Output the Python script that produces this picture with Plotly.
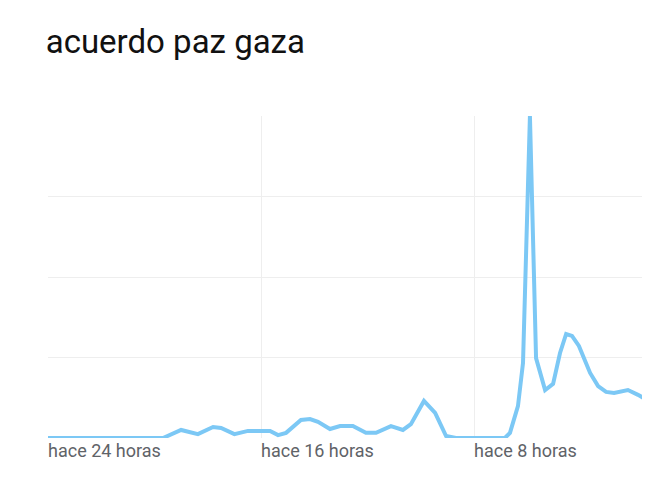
import plotly.graph_objects as go

hours_ago = [24, 19.68, 19.0, 18.37, 17.8, 17.5, 17.0, 16.49, 15.66, 15.36, 15.06, 14.5, 14.16, 13.86,
             13.41, 13.03, 12.55, 12.06, 11.68, 11.12, 10.67, 10.37, 9.88, 9.46, 9.05, 8.68, 6.84,
             6.65, 6.35, 6.16, 5.9, 5.67, 5.33, 5.03, 4.77, 4.54, 4.32, 4.06, 3.64, 3.34, 3.04,
             2.74, 2.22, 1.84, 1.09, 0]
interest = [0, 0, 2.5, 1.2, 3.4, 3.1, 1.2, 2.2, 2.2, 0.9, 1.6, 5.6, 5.9, 5.0,
            2.8, 3.7, 3.7, 1.6, 1.6, 3.7, 2.5, 4.3, 11.5, 7.8, 0.6, 0, 0,
            1.6, 9.9, 23.3, 100, 24.8, 14.9, 16.8, 26.4, 32.3, 31.7, 28.6, 20.2, 16.1, 14.3,
            14.0, 14.9, 13.4, 9.9, 7.8]
tick_vals = [24, 16, 8]
tick_text = ["hace 24 horas", "hace 16 horas", "hace 8 horas"]
last_label = "ahora"

fig = go.Figure(go.Scatter(x=hours_ago, y=interest, mode="lines",
                           line=dict(color="#7cc8f5", width=4), cliponaxis=False,
                           hoverinfo="skip"))
fig.add_annotation(text=last_label, x=0, xref="x", y=-0.0955, yref="paper",
                   xanchor="left", yanchor="middle", showarrow=False,
                   font=dict(family="Roboto", size=18, color="#5f6368"))
fig.update_layout(
    width=650, height=487, margin=dict(l=40, r=0, t=108, b=57),
    paper_bgcolor="white", plot_bgcolor="white", showlegend=False,
    title=dict(text="acuerdo paz gaza", x=0.058, xanchor="left", y=0.932, yanchor="middle",
               font=dict(family="Roboto", size=33, color="#111111")),
    xaxis=dict(range=[24, 1.09], tickvals=tick_vals, ticktext=tick_text,
               ticklabelposition="outside right", showgrid=True, gridcolor="#eeeeee",
               zeroline=False, showline=False, ticks="",
               tickfont=dict(family="Roboto", size=18, color="#5f6368")),
    yaxis=dict(range=[0, 100], tickvals=[0, 25, 50, 75, 100], showticklabels=False,
               showgrid=True, gridcolor="#eeeeee", zeroline=False, showline=False),
)
fig.write_html("out.html")
